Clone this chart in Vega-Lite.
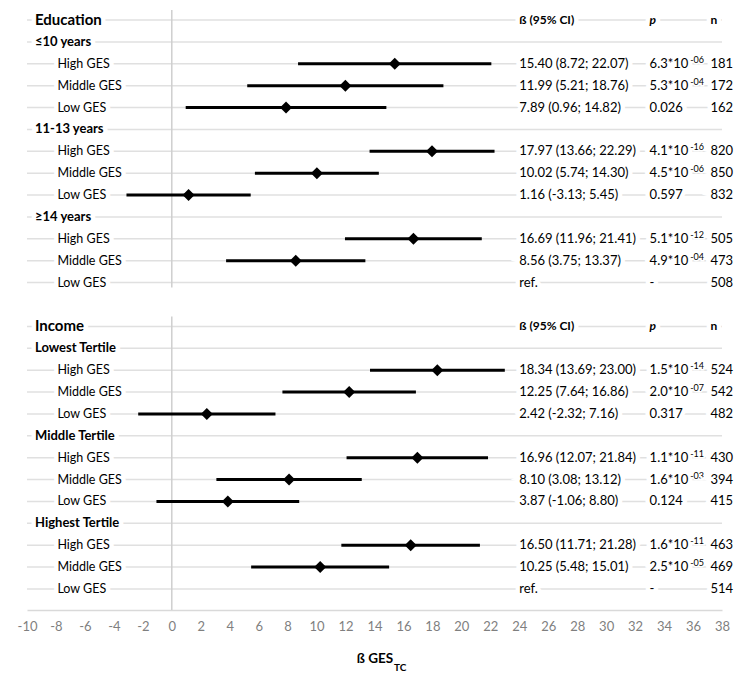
{
"$schema": "https://vega.github.io/schema/vega-lite/v6.json",
"background": "white",
"autosize": "none",
"width": 695,
"height": 600,
"padding": {"left": 27, "top": 10, "right": 34, "bottom": 63},
"config": {"view": {"stroke": null}, "axis": {"labelOverlap": false, "labelSeparation": 0, "labelBound": false, "labelFlush": false}},
"data": {"values": [
{"key":"Education","label":"Education","kind":"title","ci":"ß (95% CI)","pb":"p","n":"n"},
{"key":"≤10 years","label":"≤10 years","kind":"group"},
{"key":"≤10 years|High","label":"High GES","kind":"item","beta":15.40,"lo":8.72,"hi":22.07,"ci":"15.40 (8.72; 22.07)","pb":"6.3*10","pe":"-06","n":"181"},
{"key":"≤10 years|Middle","label":"Middle GES","kind":"item","beta":11.99,"lo":5.21,"hi":18.76,"ci":"11.99 (5.21; 18.76)","pb":"5.3*10","pe":"-04","n":"172"},
{"key":"≤10 years|Low","label":"Low GES","kind":"item","beta":7.89,"lo":0.96,"hi":14.82,"ci":"7.89 (0.96; 14.82)","pb":"0.026","pe":"","n":"162"},
{"key":"11-13 years","label":"11-13 years","kind":"group"},
{"key":"11-13 years|High","label":"High GES","kind":"item","beta":17.97,"lo":13.66,"hi":22.29,"ci":"17.97 (13.66; 22.29)","pb":"4.1*10","pe":"-16","n":"820"},
{"key":"11-13 years|Middle","label":"Middle GES","kind":"item","beta":10.02,"lo":5.74,"hi":14.30,"ci":"10.02 (5.74; 14.30)","pb":"4.5*10","pe":"-06","n":"850"},
{"key":"11-13 years|Low","label":"Low GES","kind":"item","beta":1.16,"lo":-3.13,"hi":5.45,"ci":"1.16 (-3.13; 5.45)","pb":"0.597","pe":"","n":"832"},
{"key":"≥14 years","label":"≥14 years","kind":"group"},
{"key":"≥14 years|High","label":"High GES","kind":"item","beta":16.69,"lo":11.96,"hi":21.41,"ci":"16.69 (11.96; 21.41)","pb":"5.1*10","pe":"-12","n":"505"},
{"key":"≥14 years|Middle","label":"Middle GES","kind":"item","beta":8.56,"lo":3.75,"hi":13.37,"ci":"8.56 (3.75; 13.37)","pb":"4.9*10","pe":"-04","n":"473"},
{"key":"≥14 years|Low","label":"Low GES","kind":"item","beta":null,"lo":null,"hi":null,"ci":"ref.","pb":"-","pe":"","n":"508"},
{"key":"spacer","label":"","kind":"spacer"},
{"key":"Income","label":"Income","kind":"title","ci":"ß (95% CI)","pb":"p","n":"n"},
{"key":"Lowest Tertile","label":"Lowest Tertile","kind":"group"},
{"key":"Lowest Tertile|High","label":"High GES","kind":"item","beta":18.34,"lo":13.69,"hi":23.00,"ci":"18.34 (13.69; 23.00)","pb":"1.5*10","pe":"-14","n":"524"},
{"key":"Lowest Tertile|Middle","label":"Middle GES","kind":"item","beta":12.25,"lo":7.64,"hi":16.86,"ci":"12.25 (7.64; 16.86)","pb":"2.0*10","pe":"-07","n":"542"},
{"key":"Lowest Tertile|Low","label":"Low GES","kind":"item","beta":2.42,"lo":-2.32,"hi":7.16,"ci":"2.42 (-2.32; 7.16)","pb":"0.317","pe":"","n":"482"},
{"key":"Middle Tertile","label":"Middle Tertile","kind":"group"},
{"key":"Middle Tertile|High","label":"High GES","kind":"item","beta":16.96,"lo":12.07,"hi":21.84,"ci":"16.96 (12.07; 21.84)","pb":"1.1*10","pe":"-11","n":"430"},
{"key":"Middle Tertile|Middle","label":"Middle GES","kind":"item","beta":8.10,"lo":3.08,"hi":13.12,"ci":"8.10 (3.08; 13.12)","pb":"1.6*10","pe":"-03","n":"394"},
{"key":"Middle Tertile|Low","label":"Low GES","kind":"item","beta":3.87,"lo":-1.06,"hi":8.80,"ci":"3.87 (-1.06; 8.80)","pb":"0.124","pe":"","n":"415"},
{"key":"Highest Tertile","label":"Highest Tertile","kind":"group"},
{"key":"Highest Tertile|High","label":"High GES","kind":"item","beta":16.50,"lo":11.71,"hi":21.28,"ci":"16.50 (11.71; 21.28)","pb":"1.6*10","pe":"-11","n":"463"},
{"key":"Highest Tertile|Middle","label":"Middle GES","kind":"item","beta":10.25,"lo":5.48,"hi":15.01,"ci":"10.25 (5.48; 15.01)","pb":"2.5*10","pe":"-05","n":"469"},
{"key":"Highest Tertile|Low","label":"Low GES","kind":"item","beta":null,"lo":null,"hi":null,"ci":"ref.","pb":"-","pe":"","n":"514"}
]},
"layer": [
{"mark":{"type":"rule","color":"#e0e0e0","strokeWidth":1.5},
 "encoding":{
  "x":{"datum":-10,"type":"quantitative","scale":{"domain":[-10,38],"nice":false,"zero":false},
   "axis":{"values":[-10,-8,-6,-4,-2,0,2,4,6,8,10,12,14,16,18,20,22,24,26,28,30,32,34,36,38],"tickCount":25,"labelExpr":"'' + datum.value","labelOverlap":false,"ticks":false,"grid":false,"domainColor":"#d9d9d9","domainWidth":1.5,"labelColor":"#7f7f7f","labelFont":"Lato","labelFontSize":13,"labelPadding":10,"title":"ß GES","titleFont":"Lato","titleFontSize":13.5,"titleFontWeight":"bold","titleColor":"#000000","titlePadding":18}},
  "x2":{"datum":38},
  "y":{"field":"key","type":"nominal","sort":null,"axis":null,"scale":{"type":"point","padding":0.708,"align":0.3226}},
  "strokeOpacity":{"condition":{"test":"datum.kind==='spacer'","value":0},"value":1}}},
{"data":{"values":[{}]},"mark":{"type":"rule","color":"#cfcfcf","strokeWidth":1.5,"yOffset":-10,"y2Offset":5},
 "encoding":{"x":{"datum":0,"type":"quantitative"},"y":{"datum":"Education","type":"nominal"},"y2":{"datum":"≥14 years|Low"}}},
{"data":{"values":[{}]},"mark":{"type":"rule","color":"#cfcfcf","strokeWidth":1.5,"yOffset":-10,"y2Offset":21},
 "encoding":{"x":{"datum":0,"type":"quantitative"},"y":{"datum":"Income","type":"nominal"},"y2":{"datum":"Highest Tertile|Low"}}},
{"transform":[{"filter":"datum.kind==='title'"}],"mark":{"type":"text","font":"Lato","fontSize":15,"fontWeight":"bold","align":"left","baseline":"middle","fill":"white","stroke":"white","strokeWidth":9},
 "encoding":{"x":{"datum":-9.45},"y":{"field":"key","type":"nominal","sort":null},"text":{"field":"label"}}},
{"transform":[{"filter":"datum.kind==='title'"}],"mark":{"type":"text","font":"Lato","fontSize":15,"fontWeight":"bold","align":"left","baseline":"middle","color":"#000000"},
 "encoding":{"x":{"datum":-9.45},"y":{"field":"key","type":"nominal","sort":null},"text":{"field":"label"}}},
{"transform":[{"filter":"datum.kind==='group'"}],"mark":{"type":"text","font":"Lato","fontSize":13,"fontWeight":"bold","align":"left","baseline":"middle","fill":"white","stroke":"white","strokeWidth":9},
 "encoding":{"x":{"datum":-9.45},"y":{"field":"key","type":"nominal","sort":null},"text":{"field":"label"}}},
{"transform":[{"filter":"datum.kind==='group'"}],"mark":{"type":"text","font":"Lato","fontSize":13,"fontWeight":"bold","align":"left","baseline":"middle","color":"#000000"},
 "encoding":{"x":{"datum":-9.45},"y":{"field":"key","type":"nominal","sort":null},"text":{"field":"label"}}},
{"transform":[{"filter":"datum.kind==='item'"}],"mark":{"type":"text","font":"Lato","fontSize":12.5,"align":"left","baseline":"middle","fill":"white","stroke":"white","strokeWidth":9},
 "encoding":{"x":{"datum":-7.9},"y":{"field":"key","type":"nominal","sort":null},"text":{"field":"label"}}},
{"transform":[{"filter":"datum.kind==='item'"}],"mark":{"type":"text","font":"Lato","fontSize":12.5,"align":"left","baseline":"middle","color":"#000000"},
 "encoding":{"x":{"datum":-7.9},"y":{"field":"key","type":"nominal","sort":null},"text":{"field":"label"}}},
{"transform":[{"filter":"datum.kind==='title'"}],"mark":{"type":"text","font":"Lato","fontSize":12,"fontWeight":"bold","align":"left","baseline":"middle","fill":"white","stroke":"white","strokeWidth":9},
 "encoding":{"x":{"datum":24},"y":{"field":"key","type":"nominal","sort":null},"text":{"field":"ci"}}},
{"transform":[{"filter":"datum.kind==='title'"}],"mark":{"type":"text","font":"Lato","fontSize":12,"fontWeight":"bold","align":"left","baseline":"middle","color":"#000000"},
 "encoding":{"x":{"datum":24},"y":{"field":"key","type":"nominal","sort":null},"text":{"field":"ci"}}},
{"transform":[{"filter":"datum.kind==='title'"}],"mark":{"type":"text","font":"Lato","fontSize":12,"fontWeight":"bold","fontStyle":"italic","align":"left","baseline":"middle","fill":"white","stroke":"white","strokeWidth":9},
 "encoding":{"x":{"datum":33},"y":{"field":"key","type":"nominal","sort":null},"text":{"field":"pb"}}},
{"transform":[{"filter":"datum.kind==='title'"}],"mark":{"type":"text","font":"Lato","fontSize":12,"fontWeight":"bold","fontStyle":"italic","align":"left","baseline":"middle","color":"#000000"},
 "encoding":{"x":{"datum":33},"y":{"field":"key","type":"nominal","sort":null},"text":{"field":"pb"}}},
{"transform":[{"filter":"datum.kind==='title'"}],"mark":{"type":"text","font":"Lato","fontSize":12,"fontWeight":"bold","align":"left","baseline":"middle","fill":"white","stroke":"white","strokeWidth":9},
 "encoding":{"x":{"datum":37.2},"y":{"field":"key","type":"nominal","sort":null},"text":{"field":"n"}}},
{"transform":[{"filter":"datum.kind==='title'"}],"mark":{"type":"text","font":"Lato","fontSize":12,"fontWeight":"bold","align":"left","baseline":"middle","color":"#000000"},
 "encoding":{"x":{"datum":37.2},"y":{"field":"key","type":"nominal","sort":null},"text":{"field":"n"}}},
{"transform":[{"filter":"datum.kind==='item'"}],"mark":{"type":"text","font":"Lato","fontSize":13,"align":"left","baseline":"middle","fill":"white","stroke":"white","strokeWidth":9},
 "encoding":{"x":{"datum":24},"y":{"field":"key","type":"nominal","sort":null},"text":{"field":"ci"}}},
{"transform":[{"filter":"datum.kind==='item'"}],"mark":{"type":"text","font":"Lato","fontSize":13,"align":"left","baseline":"middle","color":"#000000"},
 "encoding":{"x":{"datum":24},"y":{"field":"key","type":"nominal","sort":null},"text":{"field":"ci"}}},
{"transform":[{"filter":"datum.kind==='item'"}],"mark":{"type":"text","font":"Lato","fontSize":13,"align":"left","baseline":"middle","fill":"white","stroke":"white","strokeWidth":9},
 "encoding":{"x":{"datum":33},"y":{"field":"key","type":"nominal","sort":null},"text":{"field":"pb"}}},
{"transform":[{"filter":"datum.kind==='item'"}],"mark":{"type":"text","font":"Lato","fontSize":13,"align":"left","baseline":"middle","color":"#000000"},
 "encoding":{"x":{"datum":33},"y":{"field":"key","type":"nominal","sort":null},"text":{"field":"pb"}}},
{"transform":[{"filter":"datum.kind==='item' && datum.pe !== ''"}],"mark":{"type":"text","font":"Lato","fontSize":9,"align":"left","baseline":"middle","dy":-4,"fill":"white","stroke":"white","strokeWidth":3},
 "encoding":{"x":{"datum":35.8},"y":{"field":"key","type":"nominal","sort":null},"text":{"field":"pe"}}},
{"transform":[{"filter":"datum.kind==='item' && datum.pe !== ''"}],"mark":{"type":"text","font":"Lato","fontSize":9,"align":"left","baseline":"middle","dy":-4,"color":"#000000"},
 "encoding":{"x":{"datum":35.8},"y":{"field":"key","type":"nominal","sort":null},"text":{"field":"pe"}}},
{"transform":[{"filter":"datum.kind==='item'"}],"mark":{"type":"text","font":"Lato","fontSize":13,"align":"left","baseline":"middle","fill":"white","stroke":"white","strokeWidth":9},
 "encoding":{"x":{"datum":37.2},"y":{"field":"key","type":"nominal","sort":null},"text":{"field":"n"}}},
{"transform":[{"filter":"datum.kind==='item'"}],"mark":{"type":"text","font":"Lato","fontSize":13,"align":"left","baseline":"middle","color":"#000000"},
 "encoding":{"x":{"datum":37.2},"y":{"field":"key","type":"nominal","sort":null},"text":{"field":"n"}}},
{"transform":[{"filter":"isValid(datum.lo)"}],"mark":{"type":"rule","color":"#000000","strokeWidth":3},
 "encoding":{"x":{"field":"lo","type":"quantitative"},"x2":{"field":"hi"},"y":{"field":"key","type":"nominal","sort":null}}},
{"transform":[{"filter":"isValid(datum.beta)"}],"mark":{"type":"point","shape":"diamond","filled":true,"size":144,"color":"#000000","opacity":1},
 "encoding":{"x":{"field":"beta","type":"quantitative"},"y":{"field":"key","type":"nominal","sort":null}}},
{"data":{"values":[{"sub":"TC"}]},"mark":{"type":"text","font":"Lato","fontSize":10,"fontWeight":"bold","align":"left","baseline":"alphabetic","dy":82,"color":"#000000"},
 "encoding":{"x":{"datum":15.35},"y":{"datum":"Highest Tertile|Low","type":"nominal"},"text":{"field":"sub"}}}
]
}
